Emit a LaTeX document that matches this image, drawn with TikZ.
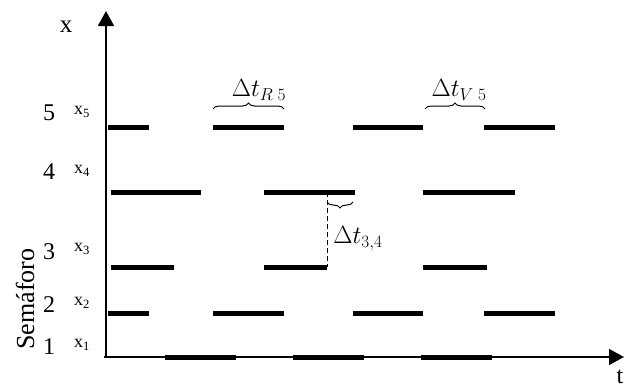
\documentclass[tikz,border=0pt]{standalone}
\usepackage{fontspec}
\setmainfont{Liberation Serif}
\usetikzlibrary{arrows.meta,decorations.pathreplacing}
\begin{document}
\begin{tikzpicture}[x=1pt,y=-1pt,
  bar/.style={line width=5pt},
  axisline/.style={-{Triangle[length=15pt,width=16pt]}},
  rownum/.style={font=\fontsize{24}{24}\selectfont},
  xlab/.style={font=\fontsize{18}{18}\selectfont},
  brc/.style={decorate,decoration={brace,amplitude=6pt},line width=1pt},
  dlab/.style={font=\fontsize{25}{25}\selectfont}]
\useasboundingbox (0,0) rectangle (631,388);
% axes
\coordinate (O) at (106,357);
\coordinate (ytop) at (106,11);
\coordinate (xstart) at (104,357);
\coordinate (xend) at (624,357);
\draw[axisline,line width=2pt] (O) -- (ytop);
\draw[axisline,line width=1.5pt] (xstart) -- (xend);
\node[font=\fontsize{25}{25}\selectfont] (xlabel) at (66,27) {x};
\node[font=\fontsize{24}{24}\selectfont,inner sep=0pt] (tlabel) at (620,377) {t};
% bars
\foreach \a/\b/\y in {108/149/127, 213/284/127, 353/423/127, 484/555/127,
                       111/201/192, 264/355/192, 423/515/192,
                       111/174/267, 264/327/267, 423/487/267,
                       108/149/313, 213/284/313, 353/423/313, 484/555/313,
                       165/236/357, 293/364/357, 421/492/357}
  \draw[bar] (\a,\y) -- (\b,\y);
% row labels
\node[rownum] (n5) at (49,113) {5};
\node[rownum] (n4) at (49,172) {4};
\node[rownum] (n3) at (49,252) {3};
\node[rownum] (n2) at (49,305) {2};
\node[rownum] (n1) at (49,347) {1};
\node[xlab] (x5) at (82,112) {x\textsubscript{5}};
\node[xlab] (x4) at (82,171) {x\textsubscript{4}};
\node[xlab] (x3) at (82,249) {x\textsubscript{3}};
\node[xlab] (x2) at (82,303) {x\textsubscript{2}};
\node[xlab] (x1) at (82,345) {x\textsubscript{1}};
\node[rotate=90,font=\fontsize{26}{26}\selectfont] (sem) at (25,299) {Semáforo};
% braces
\draw[brc] (213,109) -- (284,109);
\node[dlab] (dR) at (259,90) {$\Delta t_{R\;5}$};
\draw[brc] (425,109) -- (485,109);
\node[dlab] (dV) at (459,90) {$\Delta t_{V\;5}$};
% dashed
\coordinate (d4) at (327,192);
\coordinate (d3) at (327,267);
\draw[dashed,line width=1pt,dash pattern=on 5pt off 3pt] (d4) -- (d3);
\draw[brc] (353,202) -- (327,202);
\node[dlab] (d34) at (358,239) {$\Delta t_{3,4}$};
\end{tikzpicture}
\end{document}
